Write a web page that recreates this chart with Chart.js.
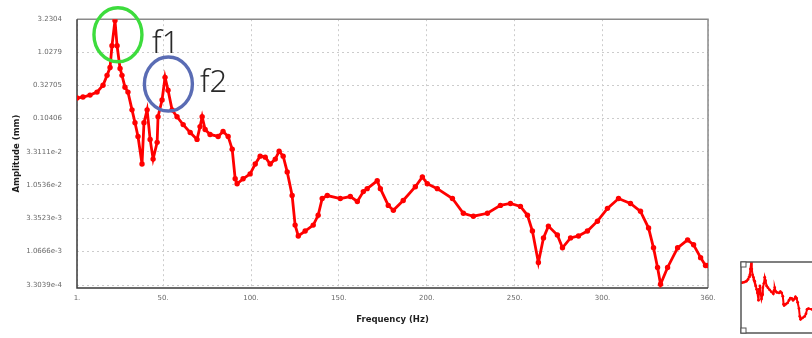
<!DOCTYPE html>
<html>
<head>
<meta charset="utf-8">
<script src="https://cdn.jsdelivr.net/npm/chart.js@4.4.1/dist/chart.umd.min.js"></script>
<style>
  html, body { margin: 0; padding: 0; background: #fff; overflow: hidden; }
  #wrap { position: relative; width: 812px; height: 338px; }
  #main { position: absolute; left: 0; top: 0; }
  #mini { position: absolute; left: 737px; top: 258px; }
</style>
</head>
<body>
<div id="wrap">
  <canvas id="main" width="812" height="338"></canvas>
  <canvas id="mini" width="178" height="79"></canvas>
</div>
<script>
// values
const freqHz = [
  1.0, 4.4, 8.4, 12.4, 15.8, 18.1, 19.8, 20.9, 22.6, 23.8,
  25.5, 26.6, 28.3, 30.0, 32.3, 34.0, 35.7, 38.0, 39.1, 40.9,
  42.6, 44.3, 46.6, 47.1, 49.4, 51.1, 52.8, 55.1, 57.9, 61.4,
  65.4, 69.3, 71.0, 72.2, 73.9, 76.7, 81.3, 84.1, 87.0, 89.3,
  91.0, 92.1, 95.5, 99.5, 102.4, 105.2, 108.1, 110.9, 113.8, 116.0,
  118.3, 120.6, 123.4, 125.1, 126.9, 130.8, 135.4, 138.2, 140.5, 143.4,
  150.8, 156.5, 160.5, 163.9, 166.1, 171.8, 173.6, 178.1, 181.0, 186.6,
  193.5, 197.5, 200.3, 206.0, 214.6, 220.8, 226.5, 234.5, 241.9, 247.6,
  253.3, 257.3, 260.1, 263.5, 266.4, 269.2, 274.3, 277.2, 281.8, 286.3,
  291.4, 297.1, 302.8, 309.1, 315.9, 321.6, 326.2, 329.0, 331.3, 333.0,
  337.0, 342.7, 348.4, 351.8, 355.8, 358.6, 360.0
];
const amplitudeMm = [
  0.2123, 0.2196, 0.2350, 0.2603, 0.3304, 0.4643, 0.6096, 1.289, 3.10, 1.289,
  0.5893, 0.4643, 0.3086, 0.2603, 0.1411, 0.0907, 0.0563, 0.02171, 0.0907, 0.1411,
  0.05083, 0.02574, 0.0459, 0.1112, 0.1983, 0.4337, 0.2787, 0.1411, 0.1112, 0.08472,
  0.06453, 0.05083, 0.07913, 0.1112, 0.07143, 0.06028, 0.0563, 0.06675, 0.0563, 0.03618,
  0.01303, 0.01099, 0.01303, 0.01545, 0.02171, 0.02851, 0.02755, 0.02171, 0.02574, 0.03379,
  0.02851, 0.01654, 0.007307, 0.002633, 0.00181, 0.002147, 0.002633, 0.003701, 0.006597, 0.007307,
  0.006597, 0.007063, 0.005958, 0.008374, 0.009273, 0.01217, 0.009273, 0.0052, 0.004386, 0.006164,
  0.009927, 0.01395, 0.01099, 0.009273, 0.006597, 0.003962, 0.003577, 0.003962, 0.0052, 0.005566,
  0.005025, 0.003701, 0.002147, 0.0007225, 0.001692, 0.002544, 0.001873, 0.001203, 0.001692, 0.00181,
  0.002147, 0.003016, 0.004694, 0.006597, 0.005566, 0.00424, 0.002377, 0.001203, 0.0006093, 0.0003417,
  0.0006093, 0.001203, 0.00158, 0.001333, 0.0008563, 0.0006524, 0.0006524
];

const yTickValues = [3.2304, 1.0279, 0.32705, 0.10406, 3.3111e-2, 1.0536e-2, 3.3523e-3, 1.0666e-3, 3.3039e-4];
const yTickLabels = ['3.2304', '1.0279', '0.32705', '0.10406', '3.3111e-2', '1.0536e-2', '3.3523e-3', '1.0666e-3', '3.3039e-4'];
const xTickValues = [1, 50, 100, 150, 200, 250, 300, 360];
const xTickLabels = ['1.', '50.', '100.', '150.', '200.', '250.', '300.', '360.'];

// peak markers drawn on top (data coordinates)
const peakRings = [
  { hz: 24.3, amp: 1.89, color: '#3ddc3d' },
  { hz: 53.0, amp: 0.345, color: '#5a6cb4' }
];
const peakNames = [
  { text: 'f1', hz: 43.7, amp: 1.02 },
  { text: 'f2', hz: 71.0, amp: 0.26 }
];

const points = freqHz.map((f, i) => ({ x: f, y: amplitudeMm[i] }));

const boxPlugin = {
  id: 'box',
  beforeDatasetsDraw(chart, args, opts) {
    const { ctx, chartArea: a } = chart;
    ctx.save();
    ctx.lineWidth = opts.width || 1.5;
    ctx.strokeStyle = opts.light || '#8a8a8a';
    ctx.beginPath();
    ctx.moveTo(a.left, a.top);
    ctx.lineTo(a.right, a.top);
    ctx.lineTo(a.right, a.bottom);
    ctx.stroke();
    ctx.strokeStyle = opts.dark || '#3a3a3a';
    ctx.beginPath();
    ctx.moveTo(a.left, a.top);
    ctx.lineTo(a.left, a.bottom);
    ctx.lineTo(a.right, a.bottom);
    ctx.stroke();
    ctx.restore();
  }
};

const notesPlugin = {
  id: 'notes',
  afterDraw(chart) {
    const { ctx } = chart;
    const xs = chart.scales.x, ys = chart.scales.y;
    ctx.save();
    ctx.lineWidth = 3.4;
    peakRings.forEach(r => {
      ctx.strokeStyle = r.color;
      ctx.beginPath();
      ctx.ellipse(xs.getPixelForValue(r.hz), ys.getPixelForValue(r.amp), 24, 27, 0, 0, Math.PI * 2);
      ctx.stroke();
    });
    ctx.fillStyle = '#2a2a2a';
    ctx.font = '300 31px "Noto Sans"';
    ctx.textBaseline = 'alphabetic';
    peakNames.forEach(n => {
      ctx.fillText(n.text, xs.getPixelForValue(n.hz), ys.getPixelForValue(n.amp));
    });
    ctx.restore();
  }
};

const tickFont = { family: 'DejaVu Sans', size: 7 };
const titleFont = { family: 'DejaVu Sans', size: 8.5, weight: 'bold' };

new Chart(document.getElementById('main'), {
  type: 'scatter',
  data: {
    datasets: [{
      data: points,
      showLine: true,
      borderColor: '#ff0000',
      borderWidth: 2.8,
      pointRadius: 2.7,
      pointBorderWidth: 0,
      pointBackgroundColor: '#ff0000'
    }]
  },
  options: {
    responsive: false,
    animation: false,
    devicePixelRatio: 1,
    layout: { padding: { left: 0, top: 18, right: 104, bottom: 0 } },
    plugins: {
      legend: { display: false },
      tooltip: { enabled: false },
      box: { width: 1.5 }
    },
    scales: {
      x: {
        type: 'linear',
        min: 1,
        max: 360,
        afterBuildTicks: axis => { axis.ticks = xTickValues.map(v => ({ value: v })); },
        afterFit: axis => { axis.height = 50; },
        ticks: {
          autoSkip: false,
          maxRotation: 0,
          padding: 6,
          color: '#6a6a6a',
          font: tickFont,
          callback: (v, i) => xTickLabels[i]
        },
        grid: { color: '#cccccc', lineWidth: 1, drawTicks: false },
        border: { display: false, dash: [2, 3] },
        title: {
          display: true,
          text: 'Frequency (Hz)',
          color: '#1e1e1e',
          font: titleFont,
          padding: { top: 0, bottom: 13 }
        }
      },
      y: {
        type: 'logarithmic',
        min: 3.3039e-4,
        max: 3.2304,
        afterBuildTicks: axis => { axis.ticks = yTickValues.map(v => ({ value: v })); },
        afterFit: axis => { axis.width = 77; },
        ticks: {
          autoSkip: false,
          padding: 15,
          color: '#6a6a6a',
          font: tickFont,
          callback: (v, i) => yTickLabels[i]
        },
        grid: { color: '#cccccc', lineWidth: 1, drawTicks: false },
        border: { display: false, dash: [2, 3] },
        title: {
          display: true,
          text: 'Amplitude (mm)',
          color: '#1e1e1e',
          font: titleFont,
          padding: { top: 12, bottom: 0 }
        }
      }
    }
  },
  plugins: [boxPlugin, notesPlugin]
});

// small overview thumbnail in the lower right corner
const cornerPlugin = {
  id: 'corners',
  afterDraw(chart) {
    const { ctx, chartArea: a } = chart;
    ctx.save();
    ctx.lineWidth = 1.5;
    ctx.strokeStyle = '#555';
    ctx.strokeRect(a.left, a.top, a.right - a.left, a.bottom - a.top);
    ctx.lineWidth = 1;
    ctx.fillStyle = '#fff';
    [[a.left, a.top], [a.left, a.bottom - 5]].forEach(([x, y]) => {
      ctx.fillRect(x, y, 5, 5);
      ctx.strokeRect(x, y, 5, 5);
    });
    ctx.restore();
  }
};

new Chart(document.getElementById('mini'), {
  type: 'scatter',
  data: {
    datasets: [{
      data: points,
      showLine: true,
      borderColor: '#ff0000',
      borderWidth: 2,
      pointRadius: 1.4,
      pointBorderWidth: 0,
      pointBackgroundColor: '#ff0000'
    }]
  },
  options: {
    responsive: false,
    animation: false,
    devicePixelRatio: 1,
    layout: { padding: { left: 1, top: 1, right: 1, bottom: 1 } },
    plugins: { legend: { display: false }, tooltip: { enabled: false } },
    scales: {
      x: { type: 'linear', min: 1, max: 360, display: false },
      y: { type: 'logarithmic', min: 3.3039e-4, max: 3.2304, display: false }
    }
  },
  plugins: [cornerPlugin]
});
</script>
</body>
</html>
